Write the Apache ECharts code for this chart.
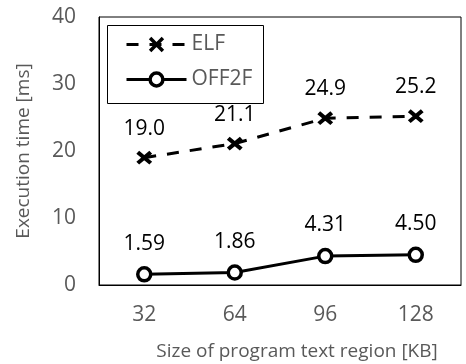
<!DOCTYPE html>
<html><head><meta charset="utf-8">
<script src="https://cdn.jsdelivr.net/npm/echarts@6/dist/echarts.min.js"></script>
<style>html,body{margin:0;padding:0;background:#fff}#c{width:466px;height:364px}</style>
</head><body><div id="c"></div>
<script>
const categories = ['32', '64', '96', '128'];
const elfValues = [19.0, 21.1, 24.9, 25.2];
const off2fValues = [1.59, 1.86, 4.31, 4.50];
const yTicks = [0, 10, 20, 30, 40];
const xAxisTitle = 'Size of program text region [KB]';
const yAxisTitle = 'Execution time [ms]';

const FONT = 'Open Sans';
const GRAY = '#595959';
const chart = echarts.init(document.getElementById('c'), null, {renderer: 'canvas'});
chart.setOption({
  animation: false,
  textStyle: {fontFamily: FONT},
  grid: {left: 99, right: 5, top: 17, bottom: 79, show: true, borderColor: '#000', borderWidth: 1},
  legend: {
    orient: 'vertical', left: 125, top: 34, itemWidth: 60, itemHeight: 16, itemGap: 14,
    textStyle: {color: GRAY, fontSize: 21, fontFamily: FONT}, padding: 0,
    lineStyle: {width: 3, color: '#000'},
    itemStyle: {borderWidth: 3.5, borderColor: '#000'},
    data: ['ELF', 'OFF2F']
  },
  graphic: [
    {type: 'rect', shape: {x: 107.5, y: 25.5, width: 156, height: 78}, style: {fill: 'none', stroke: '#000', lineWidth: 1}, z: 100},
    {type: 'text', x: 297, y: 352, style: {text: xAxisTitle, font: '19px "Open Sans"', fill: GRAY, align: 'center', verticalAlign: 'middle'}}
  ],
  xAxis: {
    type: 'category', data: categories, boundaryGap: true,
    axisLine: {lineStyle: {color: '#000'}}, axisTick: {show: false},
    axisLabel: {color: GRAY, fontSize: 21, margin: 20}
  },
  yAxis: {
    type: 'value', min: yTicks[0], max: yTicks[yTicks.length - 1], interval: 10,
    name: yAxisTitle, nameLocation: 'middle', nameGap: 66, nameRotate: 90,
    nameTextStyle: {color: GRAY, fontSize: 19},
    splitLine: {show: false}, axisLine: {show: true, lineStyle: {color: '#000'}}, axisTick: {show: false},
    axisLabel: {color: GRAY, fontSize: 21, margin: 23}
  },
  series: [
    {
      name: 'ELF', type: 'line', data: elfValues,
      symbol: 'path://M0,0L10,9M0,9L10,0', symbolSize: [13, 12], symbolKeepAspect: true,
      itemStyle: {color: 'transparent', borderColor: '#000', borderWidth: 4},
      lineStyle: {color: '#000', width: 3, type: [12, 11]},
      label: {show: true, position: 'top', distance: 11, color: '#000', fontSize: 21, fontFamily: FONT,
        formatter: p => p.value.toFixed(1)}
    },
    {
      name: 'OFF2F', type: 'line', data: off2fValues,
      symbol: 'circle', symbolSize: 13,
      itemStyle: {color: '#fff', borderColor: '#000', borderWidth: 3.5},
      lineStyle: {color: '#000', width: 3},
      label: {show: true, position: 'top', distance: 12, color: '#000', fontSize: 21, fontFamily: FONT,
        formatter: p => p.value.toFixed(2)}
    }
  ]
});
</script></body></html>
